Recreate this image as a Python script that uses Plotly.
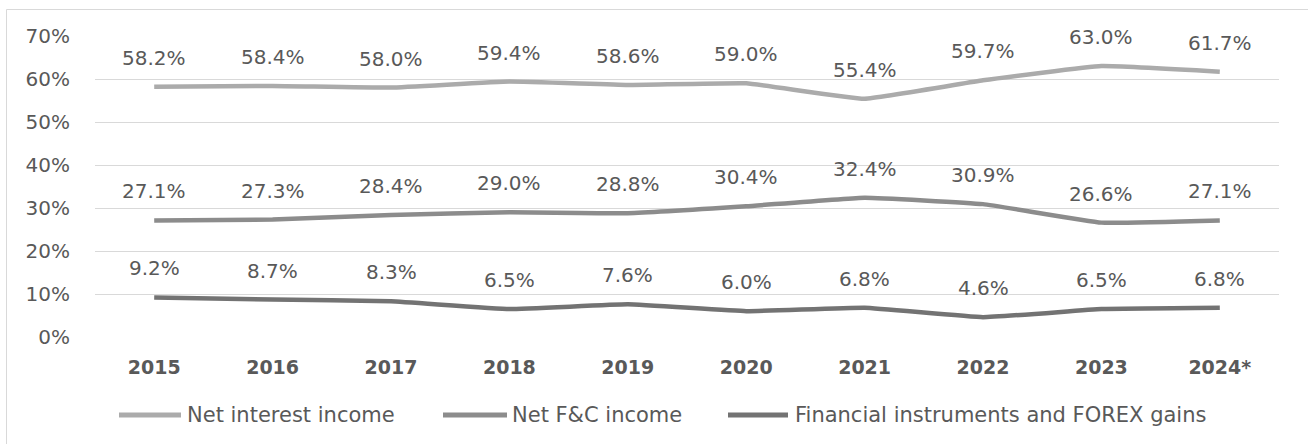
import plotly.graph_objects as go

years = ["2015", "2016", "2017", "2018", "2019", "2020", "2021", "2022", "2023", "2024*"]
net_interest = [58.2, 58.4, 58.0, 59.4, 58.6, 59.0, 55.4, 59.7, 63.0, 61.7]
net_fc = [27.1, 27.3, 28.4, 29.0, 28.8, 30.4, 32.4, 30.9, 26.6, 27.1]
fin_forex = [9.2, 8.7, 8.3, 6.5, 7.6, 6.0, 6.8, 4.6, 6.5, 6.8]

series_names = ["Net interest income", "Net F&C income", "Financial instruments and FOREX gains"]
series_values = [net_interest, net_fc, fin_forex]
series_colors = ["#ababab", "#8c8c8c", "#737373"]

TEXT = "#595959"
FONT = "DejaVu Sans"

# figure geometry (pixels)
W, H = 1308, 444
L, R, T, B = 95, 29, 36, 107
PW, PH = W - L - R, H - T - B


def px_x(x):
    return (x - L) / PW


def px_y(y):
    return (H - B - y) / PH


fig = go.Figure()
idx = list(range(len(years)))
for name, vals, color in zip(series_names, series_values, series_colors):
    fig.add_trace(go.Scatter(
        x=idx, y=[v / 100 for v in vals], mode="lines", name=name,
        line=dict(color=color, width=4.5, shape="spline", smoothing=0.3),
        hoverinfo="skip", showlegend=False,
    ))
    for i, v in zip(idx, vals):
        fig.add_annotation(
            x=i, y=v / 100, text=f"{v:.1f}%", showarrow=False,
            yshift=29, font=dict(family=FONT, size=20, color=TEXT),
        )

# legend drawn as line samples + labels along the bottom
legend_y = 415
legend_items = [(119, 181, 185), (443, 507, 510), (728, 788, 793)]
shapes = [dict(
    type="rect", xref="paper", yref="paper",
    x0=px_x(6.5), x1=px_x(1330), y0=px_y(470), y1=px_y(9.5),
    line=dict(color="#d9d9d9", width=1), layer="below",
)]
for (x0, x1, tx), name, color in zip(legend_items, series_names, series_colors):
    shapes.append(dict(
        type="line", xref="paper", yref="paper",
        x0=px_x(x0), x1=px_x(x1), y0=px_y(legend_y), y1=px_y(legend_y),
        line=dict(color=color, width=5),
    ))
    fig.add_annotation(
        xref="paper", yref="paper", x=px_x(tx), y=px_y(legend_y),
        xanchor="left", yanchor="middle", text=name, showarrow=False,
        font=dict(family=FONT, size=21, color=TEXT),
    )

fig.update_layout(
    width=W, height=H,
    margin=dict(l=L, r=R, t=T, b=B),
    paper_bgcolor="white", plot_bgcolor="white",
    font=dict(family=FONT, color=TEXT, size=20),
    showlegend=False,
    xaxis=dict(
        range=[-0.5, len(years) - 0.5], tickmode="array", tickvals=idx,
        ticktext=[f"<b>{y}</b>" for y in years],
        showgrid=False, zeroline=False, showline=False, ticks="",
        tickfont=dict(family=FONT, size=19, color=TEXT),
        ticklabelstandoff=17,
    ),
    yaxis=dict(
        range=[0, 0.7], dtick=0.1, tickformat=".0%",
        showgrid=True, gridcolor="#d9d9d9", gridwidth=1,
        zeroline=False, showline=False, ticks="",
        tickfont=dict(family=FONT, size=20, color=TEXT),
        ticklabelstandoff=24,
    ),
    shapes=shapes,
)

fig.write_html("out.html")
